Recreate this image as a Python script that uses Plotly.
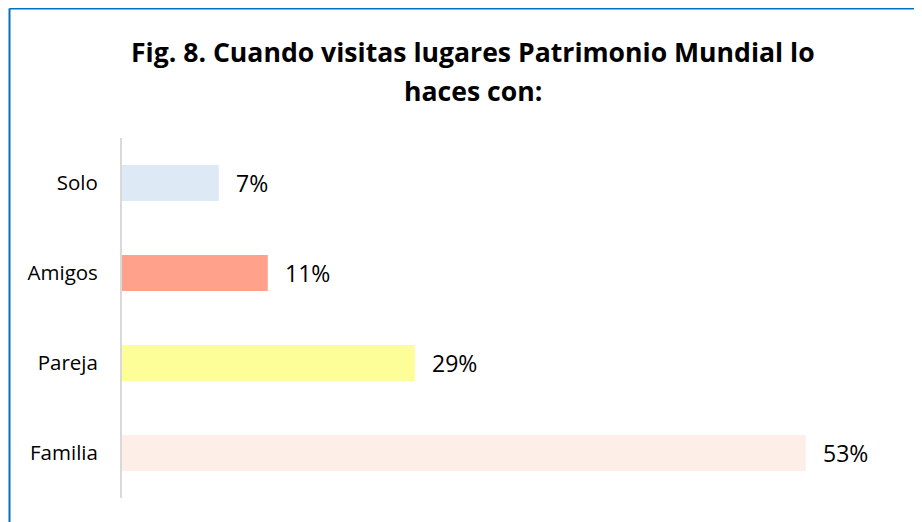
import plotly.graph_objects as go

categories = ["Solo", "Amigos", "Pareja", "Familia"]
bar_values = [7.5, 11.3, 22.7, 53.0]
value_labels = ["7%", "11%", "29%", "53%"]
colors = ["#DDE9F5", "#FFA18B", "#FEFE99", "#FDEEE7"]
title_lines = ["Fig. 8. Cuando visitas lugares Patrimonio Mundial lo", "haces con:"]

FONT = "'Open Sans', sans-serif"

# layout geometry (figure pixels); page body adds an 8px margin
W, H = 922, 522
L, T = 114, 130
PW, PH = 774, 360
R = W - L - PW
B = H - T - PH


def px_x(x):
    return (x - L) / PW


def px_y(y):
    return (T + PH - y) / PH


fig = go.Figure()
fig.add_trace(go.Bar(
    y=categories, x=bar_values, orientation="h",
    marker=dict(color=colors, line=dict(width=0)),
    hoverinfo="skip",
))

for c, v, t in zip(categories, bar_values, value_labels):
    fig.add_annotation(x=v, y=c, text=t, showarrow=False, xanchor="left",
                       xshift=15, font=dict(family=FONT, size=23, color="#000000"))

for i, line in enumerate(title_lines):
    fig.add_annotation(xref="paper", yref="paper", x=px_x(465), y=px_y(44 + 39 * i),
                       xanchor="center", yanchor="middle", showarrow=False,
                       text="<b>" + line + "</b>",
                       font=dict(family=FONT, size=26.6, color="#000000"))

fig.update_layout(
    width=W, height=H,
    margin=dict(l=L, r=R, t=T, b=B),
    paper_bgcolor="white", plot_bgcolor="white",
    bargap=0.6, showlegend=False,
    xaxis=dict(range=[0, 60], showgrid=False, zeroline=False, showticklabels=False,
               showline=False, fixedrange=True),
    yaxis=dict(autorange="reversed", showgrid=False, zeroline=False,
               showline=True, linecolor="#D9D9D9", linewidth=2,
               ticks="", ticklabelstandoff=18,
               tickfont=dict(family=FONT, size=20.5, color="#000000")),
)

# outer chart frame (blue): left and top edges
fig.add_shape(type="line", xref="paper", yref="paper",
              x0=px_x(1.5), x1=px_x(1.5), y0=px_y(H + 2), y1=px_y(0.5),
              line=dict(color="#0070C0", width=2), layer="above")
fig.add_shape(type="line", xref="paper", yref="paper",
              x0=px_x(1.5), x1=px_x(W + 2), y0=px_y(0.5), y1=px_y(0.5),
              line=dict(color="#0070C0", width=2), layer="above")

fig.write_html("out.html")
